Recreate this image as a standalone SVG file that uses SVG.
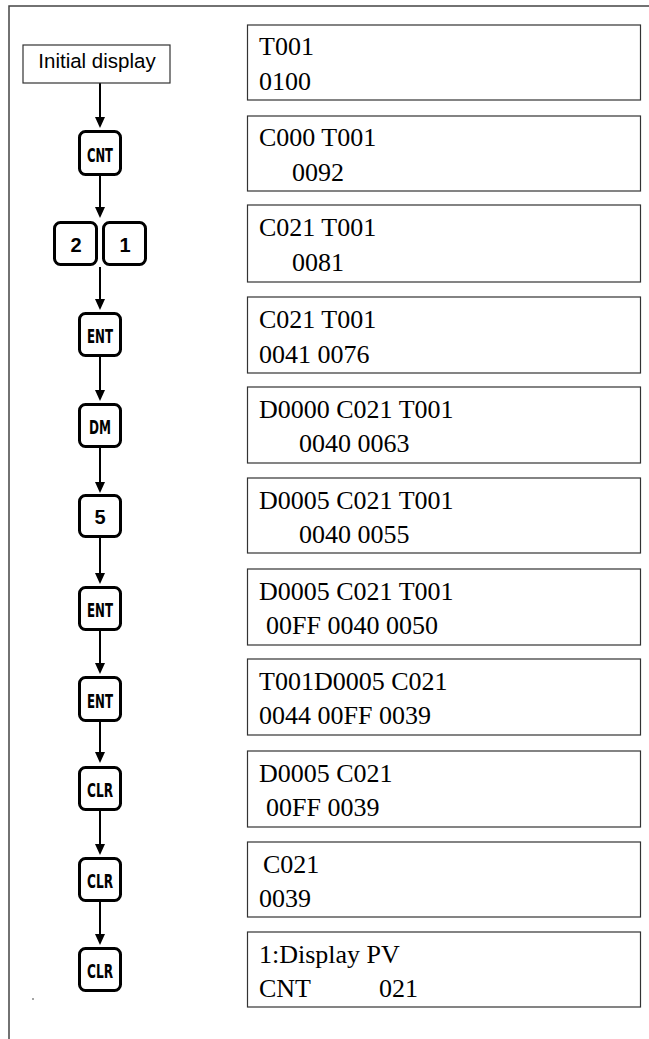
<svg xmlns="http://www.w3.org/2000/svg" width="649" height="1039" viewBox="0 0 649 1039">
<defs>
<style>
.frame{fill:none;stroke:#444;stroke-width:1.5}
.disp{fill:#fff;stroke:#333;stroke-width:1.2}
.dt{font-family:"Liberation Serif","Times New Roman",serif;font-size:26px;fill:#000}
.key{fill:#fff;stroke:#000;stroke-width:3}
.kt{font-family:"DejaVu Sans Condensed","Liberation Sans",sans-serif;font-weight:bold;font-size:20px;fill:#000;text-anchor:middle}
.kd{font-family:"Liberation Sans",Arial,sans-serif;font-weight:bold;font-size:20px;fill:#000;text-anchor:middle}
.init{fill:#fff;stroke:#333;stroke-width:1.2}
.it{font-family:"Liberation Sans",Arial,sans-serif;font-size:20.5px;fill:#000;text-anchor:middle}
.conn{stroke:#000;stroke-width:2;fill:none}
</style>
</defs>
<rect width="649" height="1039" fill="#fff"/>
<path class="frame" d="M9,1039 L9,6 L649,6"/>
<circle cx="33" cy="999" r="0.8" fill="#333"/>

<g id="connectors">
<line class="conn" x1="100" y1="83" x2="100" y2="118"/><path d="M95,117 L105,117 L100,128 Z"/>
<line class="conn" x1="100" y1="175" x2="100" y2="208"/><path d="M95,207 L105,207 L100,218 Z"/>
<line class="conn" x1="100" y1="267" x2="100" y2="300"/><path d="M95,299 L105,299 L100,310 Z"/>
<line class="conn" x1="100" y1="356" x2="100" y2="391"/><path d="M95,390 L105,390 L100,401 Z"/>
<line class="conn" x1="100" y1="447" x2="100" y2="483"/><path d="M95,482 L105,482 L100,493 Z"/>
<line class="conn" x1="100" y1="537" x2="100" y2="574"/><path d="M95,573 L105,573 L100,584 Z"/>
<line class="conn" x1="100" y1="630" x2="100" y2="664"/><path d="M95,663 L105,663 L100,674 Z"/>
<line class="conn" x1="100" y1="721" x2="100" y2="753"/><path d="M95,752 L105,752 L100,763 Z"/>
<line class="conn" x1="100" y1="810" x2="100" y2="845"/><path d="M95,844 L105,844 L100,855 Z"/>
<line class="conn" x1="100" y1="901" x2="100" y2="935"/><path d="M95,934 L105,934 L100,945 Z"/>
</g>

<g id="initial">
<rect class="init" x="23" y="45" width="147" height="38"/>
<text class="it" x="97" y="68">Initial display</text>
</g>

<g id="key-cnt"><rect class="key" x="79.5" y="131.5" width="41" height="43" rx="6"/><text class="kt" x="100" y="162" textLength="26" lengthAdjust="spacingAndGlyphs">CNT</text></g>
<g id="key-2"><rect class="key" x="54.5" y="222.5" width="42" height="42" rx="6"/><text class="kd" x="76" y="252">2</text></g>
<g id="key-1"><rect class="key" x="103.5" y="222.5" width="42" height="42" rx="6"/><text class="kd" x="125" y="252">1</text></g>
<g id="key-ent1"><rect class="key" x="79.5" y="313.5" width="41" height="42" rx="6"/><text class="kt" x="100" y="343" textLength="26" lengthAdjust="spacingAndGlyphs">ENT</text></g>
<g id="key-dm"><rect class="key" x="79.5" y="404.5" width="41" height="42" rx="6"/><text class="kt" x="100" y="434" textLength="22" lengthAdjust="spacingAndGlyphs">DM</text></g>
<g id="key-5"><rect class="key" x="79.5" y="495.5" width="41" height="41" rx="6"/><text class="kd" x="100" y="524" font-size="18">5</text></g>
<g id="key-ent2"><rect class="key" x="79.5" y="587.5" width="41" height="42" rx="6"/><text class="kt" x="100" y="617" textLength="26" lengthAdjust="spacingAndGlyphs">ENT</text></g>
<g id="key-ent3"><rect class="key" x="79.5" y="677.5" width="41" height="43" rx="6"/><text class="kt" x="100" y="708" textLength="26" lengthAdjust="spacingAndGlyphs">ENT</text></g>
<g id="key-clr1"><rect class="key" x="79.5" y="767.5" width="41" height="42" rx="6"/><text class="kt" x="100" y="797" textLength="26" lengthAdjust="spacingAndGlyphs">CLR</text></g>
<g id="key-clr2"><rect class="key" x="79.5" y="858.5" width="41" height="42" rx="6"/><text class="kt" x="100" y="888" textLength="26" lengthAdjust="spacingAndGlyphs">CLR</text></g>
<g id="key-clr3"><rect class="key" x="79.5" y="948.5" width="41" height="42" rx="6"/><text class="kt" x="100" y="978" textLength="26" lengthAdjust="spacingAndGlyphs">CLR</text></g>

<g id="disp1"><rect class="disp" x="247.5" y="25" width="393" height="75"/><text class="dt" x="259" y="55">T001</text><text class="dt" x="259" y="90">0100</text></g>
<g id="disp2"><rect class="disp" x="247.5" y="116" width="393" height="75"/><text class="dt" x="259" y="146">C000 T001</text><text class="dt" x="292" y="181">0092</text></g>
<g id="disp3"><rect class="disp" x="247.5" y="205" width="393" height="77"/><text class="dt" x="259" y="236">C021 T001</text><text class="dt" x="292" y="271">0081</text></g>
<g id="disp4"><rect class="disp" x="247.5" y="297" width="393" height="76"/><text class="dt" x="259" y="328">C021 T001</text><text class="dt" x="259" y="363">0041 0076</text></g>
<g id="disp5"><rect class="disp" x="247.5" y="387" width="393" height="76"/><text class="dt" x="259" y="418">D0000 C021 T001</text><text class="dt" x="299" y="452">0040 0063</text></g>
<g id="disp6"><rect class="disp" x="247.5" y="478" width="393" height="75"/><text class="dt" x="259" y="509">D0005 C021 T001</text><text class="dt" x="299" y="543">0040 0055</text></g>
<g id="disp7"><rect class="disp" x="247.5" y="569" width="393" height="76"/><text class="dt" x="259" y="600">D0005 C021 T001</text><text class="dt" x="266" y="634">00FF 0040 0050</text></g>
<g id="disp8"><rect class="disp" x="247.5" y="659" width="393" height="76"/><text class="dt" x="259" y="690">T001D0005 C021</text><text class="dt" x="259" y="724">0044 00FF 0039</text></g>
<g id="disp9"><rect class="disp" x="247.5" y="751" width="393" height="76"/><text class="dt" x="259" y="782">D0005 C021</text><text class="dt" x="266" y="816">00FF 0039</text></g>
<g id="disp10"><rect class="disp" x="247.5" y="842" width="393" height="75"/><text class="dt" x="263" y="873">C021</text><text class="dt" x="259" y="907">0039</text></g>
<g id="disp11"><rect class="disp" x="247.5" y="932" width="393" height="75"/><text class="dt" x="259" y="963">1:Display PV</text><text class="dt" x="259" y="997">CNT</text><text class="dt" x="379" y="997">021</text></g>
</svg>
